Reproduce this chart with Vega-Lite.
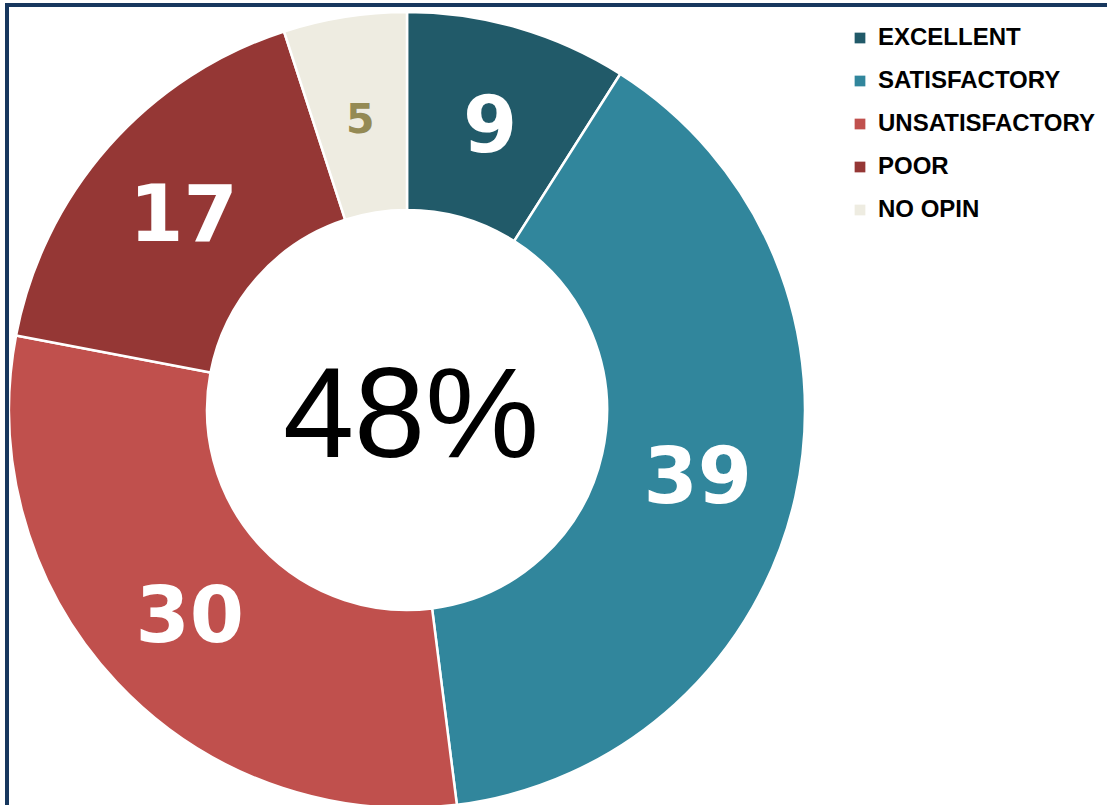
{
  "$schema": "https://vega.github.io/schema/vega-lite/v6.json",
  "autosize": "none",
  "width": 1105,
  "height": 810,
  "padding": {"left": 7, "top": 5, "right": 0, "bottom": 0},
  "background": "white",
  "config": {
    "view": {"stroke": null},
    "font": "Liberation Sans"
  },
  "layer": [
    {
      "data": {"name": "slices", "values": [
        {"category": "EXCELLENT", "value": 9, "order": 1},
        {"category": "SATISFACTORY", "value": 39, "order": 2},
        {"category": "UNSATISFACTORY", "value": 30, "order": 3},
        {"category": "POOR", "value": 17, "order": 4},
        {"category": "NO OPIN", "value": 5, "order": 5}
      ]},
      "layer": [
        {
          "mark": {"type": "arc", "x": 400, "y": 405, "innerRadius": 200, "outerRadius": 398, "stroke": "white", "strokeWidth": 2.5},
          "encoding": {
            "theta": {"field": "value", "type": "quantitative", "stack": true},
            "order": {"field": "order", "type": "quantitative"},
            "color": {
              "field": "category", "type": "nominal",
              "scale": {
                "domain": ["EXCELLENT", "SATISFACTORY", "UNSATISFACTORY", "POOR", "NO OPIN"],
                "range": ["#215A69", "#31869C", "#C0504D", "#953735", "#EEECE1"]
              },
              "legend": {
                "orient": "none", "legendX": 841, "legendY": 21, "title": null,
                "padding": 0,
                "labelFont": "Liberation Sans", "labelFontWeight": "bold", "labelFontSize": 24,
                "labelColor": "black", "labelOffset": 6, "labelLimit": 400,
                "symbolType": "square", "symbolSize": 115, "symbolStrokeWidth": 0, "symbolOpacity": 1,
                "rowPadding": 19
              }
            }
          }
        },
        {
          "mark": {"type": "text", "x": 400, "y": 405, "radius": 298, "dy": 5, "font": "DejaVu Sans", "fontWeight": "bold", "align": "center", "baseline": "middle"},
          "encoding": {
            "theta": {"field": "value", "type": "quantitative", "stack": true},
            "order": {"field": "order", "type": "quantitative"},
            "text": {"field": "value", "type": "quantitative"},
            "color": {"condition": {"test": "datum.category === 'NO OPIN'", "value": "#948A54"}, "value": "white"},
            "size": {"condition": {"test": "datum.category === 'NO OPIN'", "value": 41}, "value": 78}
          }
        }
      ]
    },
    {
      "data": {"values": [{"label": "48%"}]},
      "layer": [
        {
          "mark": {"type": "rect", "x": 0, "y": 0, "x2": {"expr": "width"}, "y2": {"expr": "height"}, "fill": null, "stroke": "#17375E", "strokeWidth": 4},
          "encoding": {}
        },
        {
          "mark": {"type": "text", "x": 404, "y": 452, "font": "Liberation Sans", "fontSize": 128, "align": "center", "baseline": "alphabetic", "color": "black"},
          "encoding": {"text": {"field": "label", "type": "nominal"}}
        }
      ]
    }
  ]
}
